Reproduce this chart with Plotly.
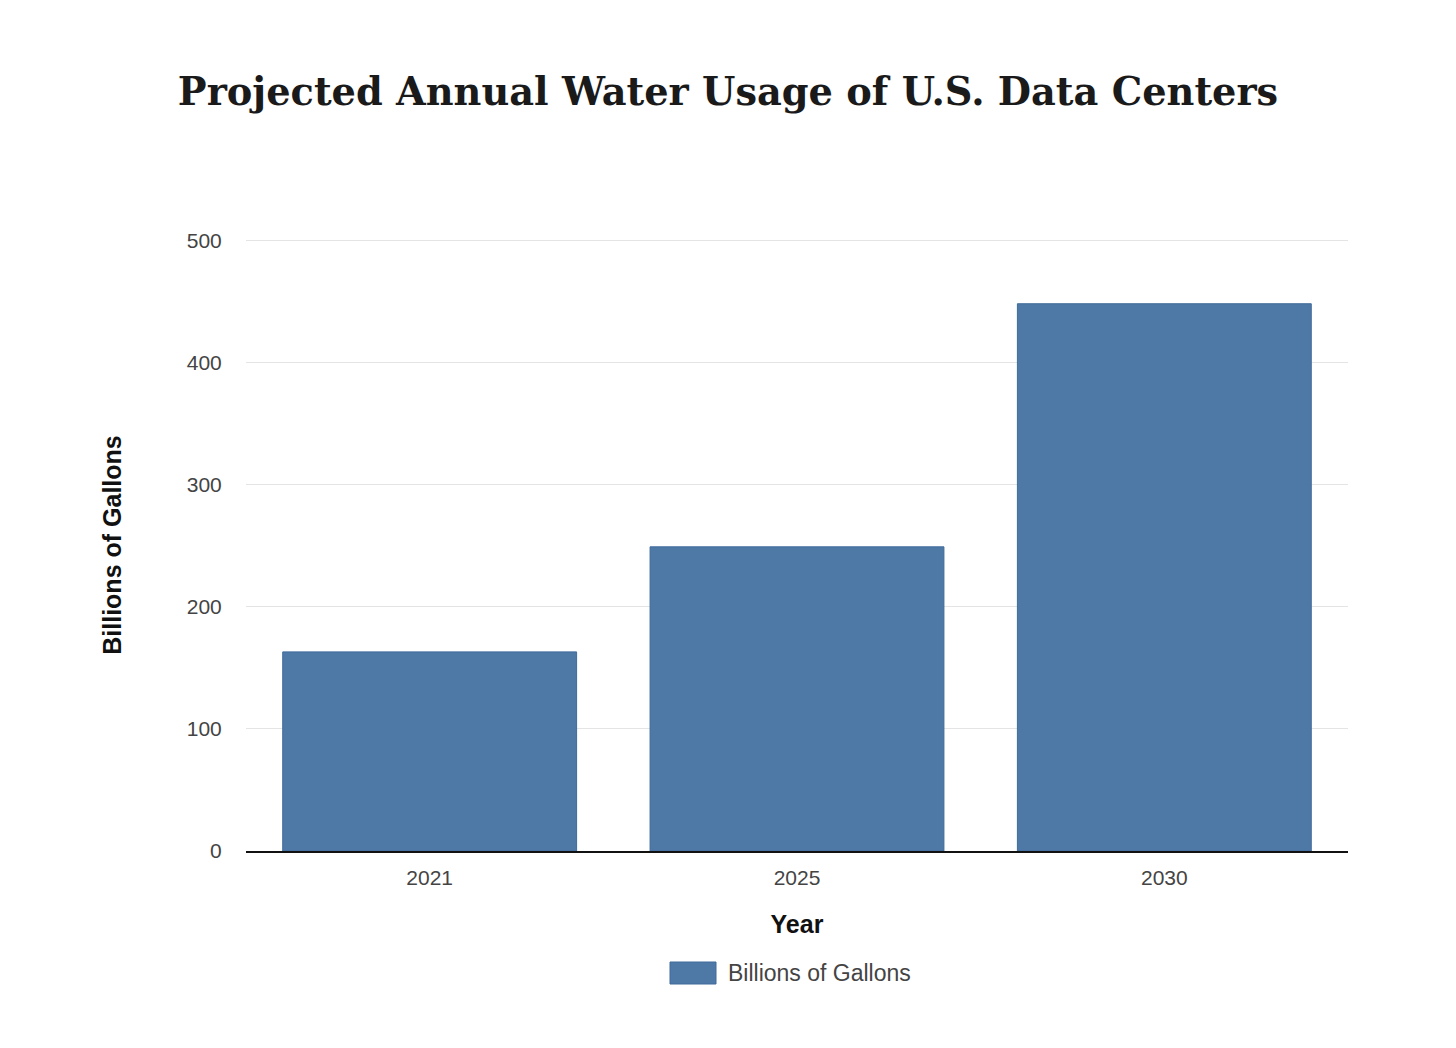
import plotly.graph_objects as go

years = ["2021", "2025", "2030"]
billions_of_gallons = [163, 249, 448]
y_ticks = [0, 100, 200, 300, 400, 500]
series_name = "Billions of Gallons"

BAR_COLOR = "#4e79a7"
EDGE_COLOR = "#3f6a9a"

# plot area in figure pixels (page body has an 8px offset)
L, R, T, B = 238, 116, 231, 205
W, H = 1456, 1048
PW = W - L - R
PH = H - T - B

fig = go.Figure()
fig.add_trace(go.Bar(
    x=years,
    y=billions_of_gallons,
    name=series_name,
    marker=dict(color=BAR_COLOR, line=dict(color=EDGE_COLOR, width=1)),
    showlegend=False,
))

def px_x(p):
    return (p - L) / PW

def px_y(p):
    return (H - B - p) / PH

# legend (swatch + label) below the axis title
fig.add_shape(type="rect", xref="paper", yref="paper",
              x0=px_x(662), x1=px_x(708), y0=px_y(976), y1=px_y(954),
              fillcolor=BAR_COLOR, line=dict(color=EDGE_COLOR, width=1))
fig.add_annotation(text=series_name, xref="paper", yref="paper",
                   x=px_x(718), y=px_y(965), xanchor="left", yanchor="middle",
                   showarrow=False,
                   font=dict(family="Liberation Sans", size=23, color="#444"))

fig.update_layout(
    width=W,
    height=H,
    paper_bgcolor="white",
    plot_bgcolor="white",
    margin=dict(l=L, r=R, t=T, b=B),
    bargap=0.2,
    title=dict(
        text="<b>Projected Annual Water Usage of U.S. Data Centers</b>",
        x=0.5 - 8 / W,
        xanchor="center",
        y=1 - 84 / H,
        yanchor="middle",
        font=dict(family="DejaVu Serif", size=38.3, color="#1a1a1a"),
    ),
    xaxis=dict(
        title=dict(text="<b>Year</b>", font=dict(family="Liberation Sans", size=25, color="#111"), standoff=28),
        tickfont=dict(family="Liberation Sans", size=21, color="#444"),
        showline=True,
        linecolor="#111",
        linewidth=1.5,
        ticks="outside",
        ticklen=7,
        tickcolor="rgba(0,0,0,0)",
        showgrid=False,
    ),
    yaxis=dict(
        title=dict(text="<b>Billions of Gallons</b>", font=dict(family="Liberation Sans", size=25, color="#111"), standoff=58),
        tickfont=dict(family="Liberation Sans", size=21, color="#444"),
        range=[0, 501],
        tickvals=y_ticks,
        showgrid=True,
        gridcolor="#e4e4e4",
        gridwidth=1.3,
        zeroline=False,
        ticks="outside",
        ticklen=19,
        tickcolor="rgba(0,0,0,0)",
    ),
)

fig.write_html("out.html")
